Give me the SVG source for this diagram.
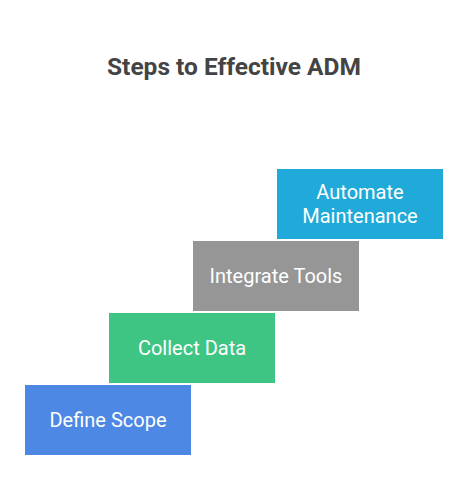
<svg xmlns="http://www.w3.org/2000/svg" width="468" height="504" viewBox="0 0 468 504">
<style>
.title{font-family:Roboto,"Liberation Sans",sans-serif;font-weight:bold;font-size:24.5px;fill:#444444;text-anchor:middle}
.lbl{font-family:Roboto,"Liberation Sans",sans-serif;font-size:20px;fill:#ffffff;text-anchor:middle}
</style>
<rect width="468" height="504" fill="#ffffff"/>
<text class="title" x="234" y="74.5">Steps to Effective ADM</text>
<g id="define-scope">
<rect x="25" y="385" width="166" height="70" fill="#4E88E5"/>
<text class="lbl" x="108" y="427">Define Scope</text>
</g>
<g id="collect-data">
<rect x="109" y="313" width="166" height="70" fill="#3EC483"/>
<text class="lbl" x="192" y="355">Collect Data</text>
</g>
<g id="integrate-tools">
<rect x="193" y="241" width="166" height="70" fill="#969696"/>
<text class="lbl" x="276" y="283">Integrate Tools</text>
</g>
<g id="automate-maintenance">
<rect x="277" y="169" width="166" height="70" fill="#1FAAD9"/>
<text class="lbl" x="360" y="199">Automate</text>
<text class="lbl" x="360" y="223">Maintenance</text>
</g>
<g id="connectors"></g>
</svg>
